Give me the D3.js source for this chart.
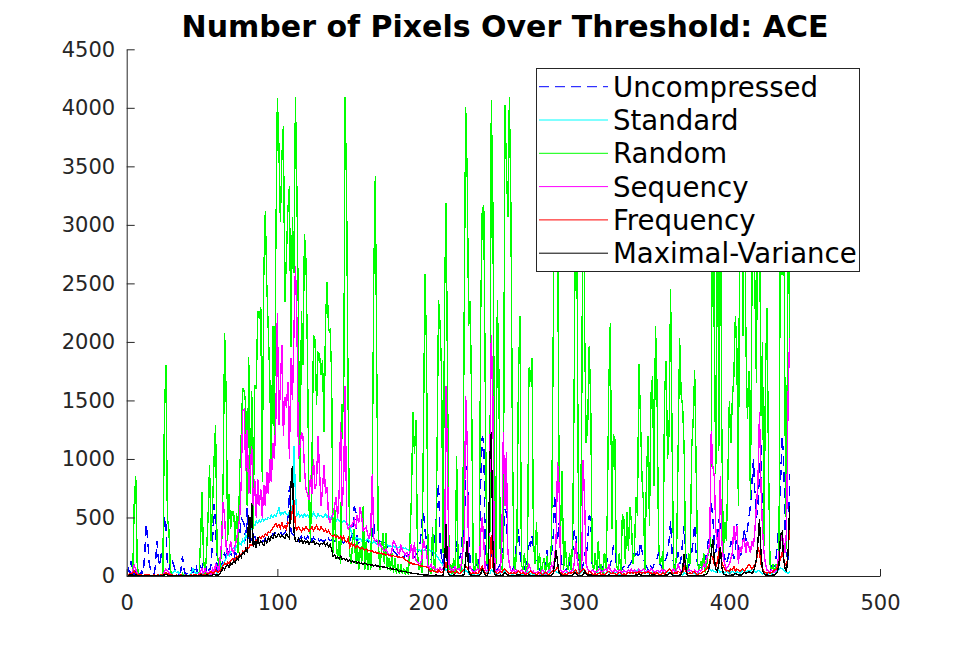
<!DOCTYPE html>
<html>
<head>
<meta charset="utf-8">
<script src="https://cdn.jsdelivr.net/npm/d3@7"></script>
<style>
  body { margin: 0; background: #fff; }
  svg { display: block; }
</style>
</head>
<body>
<svg id="chart" width="974" height="648"></svg>
<script>
const seriesNames = ["Uncompressed", "Standard", "Random", "Sequency", "Frequency", "Maximal-Variance"];
const xTicks = [0, 100, 200, 300, 400, 500];
const yTicks = [0, 500, 1000, 1500, 2000, 2500, 3000, 3500, 4000, 4500];

const uncompressed = [
77,20,130,40,10,77,30,20,10,40,
20,200,443,300,100,50,20,10,77,301,
150,80,200,150,514,440,100,50,145,145,
100,60,20,10,20,50,173,60,10,20,
10,20,60,30,40,100,20,60,80,60,
120,150,30,60,40,100,300,614,450,30,
20,40,80,150,200,120,250,180,200,150,
130,200,180,300,350,500,470,440,300,580,
316,350,300,380,340,300,320,290,310,300,
300,320,290,310,340,330,360,350,370,360,
373,380,350,360,370,400,500,770,380,360,
344,320,330,300,320,340,300,330,310,340,
320,344,300,330,310,340,320,300,310,300,
300,310,290,320,300,310,290,300,310,300,
305,290,300,280,300,320,290,300,330,400,
588,564,300,280,290,270,300,280,290,300,
280,300,350,450,320,300,280,300,290,310,
280,300,250,270,240,230,220,200,190,180,
165,180,170,160,175,165,180,160,150,170,
160,180,200,220,300,480,540,393,300,150,
150,140,200,300,400,620,794,300,150,100,
630,200,100,80,60,50,100,120,300,150,
150,200,400,300,900,940,400,100,60,50,
60,100,50,200,800,1185,1160,200,100,60,
80,200,300,100,60,50,80,100,200,300,
571,540,200,100,60,50,80,200,300,400,
200,100,80,60,100,200,300,250,345,220,
200,80,60,50,80,60,50,40,220,80,
100,200,300,700,450,300,460,200,80,60,
50,60,80,100,150,200,380,390,200,100,
80,60,100,200,150,300,514,500,100,80,
60,50,80,60,50,80,60,100,150,60,
100,150,255,230,100,60,50,40,60,80,
50,60,80,100,120,150,200,180,200,150,
290,216,150,100,80,60,100,80,60,100,
100,150,200,100,80,60,120,150,200,300,
471,200,100,80,150,200,100,150,300,429,
200,100,80,150,200,300,445,150,100,80,
60,80,100,150,200,300,400,630,500,300,
200,300,471,445,300,200,150,100,150,200,
300,200,150,200,445,200,150,200,300,400,
300,400,500,600,800,997,700,500,600,886,
1140,400,200,100,80,60,50,80,60,100,
150,300,500,800,1196,1025,400,200,100,870
];

const standard = [
0,10,20,10,0,10,20,10,0,0,
0,0,10,0,0,0,0,0,0,0,
0,10,0,0,20,30,20,10,0,10,
40,45,30,40,20,10,0,10,0,0,
0,10,30,60,40,20,30,10,0,20,
10,20,30,20,10,20,30,50,40,20,
30,50,80,100,130,150,200,170,210,220,
240,220,260,250,280,270,308,290,350,330,
393,380,420,440,430,470,450,478,460,490,
470,490,480,500,490,520,500,520,510,540,
586,520,540,530,550,530,520,550,560,600,
1110,700,520,540,506,520,500,530,510,520,
500,520,506,540,520,500,530,510,520,500,
510,530,500,520,490,510,500,480,470,490,
470,480,460,470,467,450,440,420,380,336,
340,320,330,310,320,300,310,300,308,320,
300,290,280,300,285,270,280,265,275,265,
270,260,265,255,260,250,255,245,250,240,
250,240,245,235,240,230,222,235,225,230,
222,230,220,225,215,222,218,225,215,220,
222,210,215,200,190,170,150,130,110,90,
70,50,40,20,10,30,20,40,30,20,
20,40,60,30,50,40,20,30,20,10,
20,30,10,40,60,50,30,20,40,30,
20,50,40,30,20,10,30,20,40,30,
50,40,30,20,30,10,20,30,20,40,
30,20,10,30,20,40,30,20,30,10,
20,10,30,20,10,20,30,10,20,30,
40,30,50,60,40,30,20,30,20,10,
20,30,20,40,30,60,40,30,20,30,
20,30,50,40,30,20,40,30,20,10,
20,10,30,20,10,20,30,20,40,30,
20,30,40,20,30,20,10,20,30,20,
10,20,30,40,20,30,40,30,50,60,
40,30,20,30,40,20,30,20,40,30,
20,30,20,40,30,20,30,40,30,20,
30,40,20,30,20,40,30,20,10,30,
20,30,40,30,20,30,20,10,20,30,
20,30,40,50,60,80,60,40,50,40,
30,40,50,30,40,20,30,40,30,20,
30,40,30,20,40,30,20,30,50,40,
30,40,50,40,60,50,40,30,50,40,
30,20,30,20,10,20,30,20,30,40,
30,40,60,70,60,50,40,30,20,40
];

const random = [
0,0,0,0,620,850,100,0,0,0,
0,0,0,0,0,0,0,0,0,0,
0,0,0,0,1340,1800,500,400,60,0,
0,0,0,0,0,0,20,0,0,0,
0,0,0,0,0,0,0,0,300,714,
150,0,200,500,950,300,600,1000,1290,200,
100,50,250,800,2080,1556,300,700,400,550,
550,300,540,200,900,1200,1608,1577,1470,600,
1873,700,1580,400,1635,1600,2267,2199,2301,800,
2574,3119,2488,2091,1673,900,2133,1200,2830,4086,
3682,3028,3574,3847,2338,2730,3128,3332,1957,3071,
2590,4096,3264,2173,800,2267,1807,2923,2693,1875,
600,300,1000,2054,2020,1457,1909,1895,1716,1847,
1227,2190,2514,2100,2110,1730,200,600,300,150,
300,100,1466,1400,4094,3204,1450,200,100,300,
400,100,300,50,250,100,597,50,300,50,
200,50,852,2557,3418,1739,300,50,200,370,
100,370,50,150,40,200,30,150,20,100,
20,100,20,60,10,80,10,300,682,1398,
1043,1335,200,50,100,30,1290,2582,1935,100,
50,20,418,100,30,1057,2361,2148,1739,200,
2386,3190,1594,50,100,20,150,20,1025,50,
100,30,200,2207,4008,3426,2133,2346,1423,100,
30,200,50,100,2261,3128,3170,1594,100,200,
300,4065,3199,1227,100,2355,1764,100,50,200,
4023,3511,3071,4094,3156,1196,100,50,300,1665,
2219,100,50,200,30,100,1781,1660,1861,300,
100,460,50,200,20,100,150,20,173,50,
100,300,1878,3500,4096,3000,800,400,898,50,
300,100,50,200,50,300,1611,3500,2420,200,
50,1366,3800,2062,1140,1290,1963,1466,100,50,
200,30,300,50,100,20,200,50,545,1622,
2165,400,1210,1170,100,50,200,30,528,485,
100,545,216,585,460,100,200,673,510,1807,
1355,843,630,50,855,1196,426,1551,1707,770,
2139,1611,300,100,173,50,1537,1835,997,1227,
2453,1156,100,30,200,1057,2036,1551,1452,1085,
100,50,200,100,1085,1325,1756,886,100,50,
130,50,200,30,100,200,200,1238,4096,2048,
870,3800,1070,3500,1253,200,460,300,830,1495,
1140,1508,1707,2219,1935,600,3500,4096,2048,3800,
2005,1338,1750,660,2445,3600,2420,1650,3900,3300,
1366,2000,258,1722,2293,971,100,50,100,30,
100,50,200,3800,2574,3500,1290,230,3600,2000
];

const sequency = [
0,0,0,50,90,60,20,0,0,0,
0,0,0,0,0,0,0,0,0,0,
0,0,0,0,40,60,45,30,20,0,
0,0,0,0,10,0,0,0,0,0,
0,0,0,0,0,0,0,20,40,60,
20,60,30,20,40,10,60,30,100,80,
40,150,300,630,500,250,180,200,300,220,
200,260,320,400,500,800,1410,1423,900,1250,
700,921,1110,600,827,500,827,600,740,500,
780,600,886,700,997,800,1135,1000,1348,2250,
1287,1623,1977,1200,1531,1440,1654,1000,1866,1500,
2080,2645,2165,1000,1100,1226,1193,921,741,700,
650,860,700,1000,741,800,1193,900,600,750,
950,700,758,500,460,500,530,600,677,500,
700,1312,600,800,1620,460,400,430,420,450,
480,400,520,450,590,500,386,400,420,350,
315,400,870,320,300,310,260,280,250,230,
210,230,200,180,173,220,300,280,258,200,
190,258,220,200,180,202,160,200,272,150,
287,130,120,110,100,150,315,250,200,80,
70,100,60,80,50,60,40,70,50,60,
120,1622,870,100,50,60,40,80,50,60,
50,100,200,300,1537,1140,60,80,50,40,
30,50,60,40,370,500,300,50,40,60,
870,2057,1537,200,50,40,60,30,300,1227,
597,1055,200,100,50,40,60,30,50,40,
30,50,40,20,30,50,100,60,30,40,
20,30,40,20,30,50,40,20,30,40,
50,100,60,150,300,971,770,50,40,30,
50,40,30,20,40,50,100,300,150,60,
40,50,990,600,100,60,40,30,50,40,
30,40,50,60,30,40,50,60,40,100,
50,40,30,60,40,30,50,40,30,50,
40,30,50,40,60,30,50,40,30,60,
40,50,60,40,30,50,40,60,50,40,
30,50,40,30,60,40,50,30,40,60,
50,40,60,30,50,100,60,40,50,170,
40,30,60,50,40,30,50,40,30,50,
40,60,100,80,150,200,300,1238,944,855,
400,300,200,855,300,150,100,60,80,100,
150,200,426,300,429,100,250,200,300,312,
200,300,250,200,300,250,400,600,800,1398,
770,400,200,100,50,40,30,50,40,30,
50,100,200,290,350,300,200,400,1540,2036
];

const frequency = [
10,20,15,30,40,20,10,8,10,6,
5,8,6,10,8,5,6,8,5,6,
8,6,10,8,20,30,20,15,10,8,
6,5,8,6,5,8,6,5,8,6,
5,6,8,6,10,8,6,10,20,15,
10,8,20,15,30,40,20,30,50,40,
30,50,60,90,110,95,120,105,130,140,
150,135,170,160,190,175,210,200,230,250,
240,270,260,290,280,310,300,336,320,340,
330,360,344,380,370,390,410,430,450,420,
440,410,460,410,430,400,460,440,480,564,
650,420,393,420,400,380,410,393,420,400,
380,400,420,390,410,430,400,390,420,400,
380,400,373,390,360,344,336,350,330,340,
320,340,310,336,300,290,320,250,280,260,
270,240,260,250,230,245,235,222,230,215,
220,210,215,200,205,195,200,190,195,185,
190,180,185,175,180,170,175,165,170,160,
165,155,160,150,140,130,120,108,115,100,
105,95,100,90,85,88,80,82,75,70,
45,40,50,35,40,30,50,40,30,35,
60,120,50,40,30,40,30,20,40,30,
20,30,40,60,80,70,40,30,20,30,
20,30,20,40,60,80,50,30,20,30,
60,350,80,40,30,20,30,40,30,50,
60,40,30,20,30,20,30,20,30,40,
30,20,30,20,10,20,30,40,30,20,
20,10,20,30,20,10,20,30,20,10,
20,30,50,40,60,80,40,30,20,10,
20,10,20,30,20,30,40,50,30,20,
30,40,60,50,30,20,40,30,20,10,
20,10,20,30,10,20,10,20,30,40,
30,20,30,20,10,20,30,20,10,20,
10,20,30,20,30,20,30,20,30,40,
30,20,30,20,30,40,20,30,20,30,
20,30,20,10,20,30,20,30,40,60,
50,30,20,30,20,40,30,20,30,80,
40,30,20,30,20,40,30,20,10,20,
20,30,40,50,60,80,120,187,150,100,
80,120,200,250,120,80,60,40,50,40,
60,50,80,40,60,50,40,50,60,40,
60,80,100,80,60,80,100,120,247,200,
100,60,40,30,20,30,20,30,40,50,
60,80,120,145,200,150,100,80,200,418
];

const maximalVariance = [
5,8,10,6,4,8,6,5,4,3,
3,2,3,4,2,3,2,3,2,2,
3,2,4,5,10,15,8,5,4,3,
3,2,2,3,2,3,2,2,3,2,
2,3,2,3,2,3,2,5,8,6,
4,5,8,6,5,4,10,15,10,8,
10,25,45,70,55,80,95,75,110,100,
130,115,150,140,180,160,200,190,230,210,
520,280,623,250,300,240,330,270,300,282,
260,310,282,330,300,340,320,360,330,345,
360,330,350,336,320,360,340,320,780,940,
380,300,293,320,290,310,280,300,282,300,
270,290,282,300,270,285,275,260,280,273,
290,260,280,250,270,230,165,180,150,160,
145,170,140,150,137,150,125,140,120,130,
115,125,108,120,105,112,100,110,108,95,
100,90,95,85,92,80,88,78,82,75,
80,72,70,65,68,60,62,55,58,50,
37,45,40,35,38,30,32,28,25,22,
23,20,18,15,12,14,10,9,8,9,
5,6,4,5,8,6,5,4,6,8,
100,440,40,10,6,5,8,6,5,4,
6,5,8,10,150,300,40,10,6,5,
4,6,5,8,20,60,30,8,6,20,
1000,1227,300,20,8,6,5,8,6,10,
30,20,8,6,5,4,6,5,8,10,
8,6,5,4,6,5,8,6,5,4,
3,4,5,4,3,4,5,3,4,5,
6,8,20,100,220,116,30,10,6,5,
4,5,6,4,5,8,20,30,10,6,
5,6,10,40,20,8,6,10,6,5,
4,3,4,5,4,3,4,5,6,8,
6,5,4,6,5,4,3,4,5,4,
3,4,5,6,4,5,6,8,10,20,
10,6,5,4,6,5,8,6,10,8,
6,5,4,6,5,4,6,8,10,20,
30,10,6,5,4,6,8,10,60,187,
80,10,6,5,4,6,5,4,3,4,
5,6,8,10,20,40,100,200,315,150,
60,40,100,250,80,20,10,8,6,5,
6,8,10,20,15,10,8,10,20,30,
20,30,40,30,20,40,80,150,300,486,
200,50,20,10,8,6,5,6,8,10,
20,40,100,358,375,150,60,40,200,597
];

const seriesData = [uncompressed, standard, random, sequency, frequency, maximalVariance];
const seriesColors = ["#0000ff", "#00ffff", "#00ff00", "#ff00ff", "#ff0000", "#000000"];
const seriesDash = ["10,6", null, null, null, null, null];

const svg = d3.select("#chart");
const axisColor = "#262626";
const fontFam = "'DejaVu Sans', sans-serif";

const x = d3.scaleLinear().domain([0, 500]).range([126.7, 880]);
const y = d3.scaleLinear().domain([0, 4500]).range([576, 49.3]);

svg.append("rect").attr("width", 974).attr("height", 648).attr("fill", "#fff");

// data lines
const line = d3.line().x((d, i) => x(i + 1)).y(d => y(d));
seriesData.forEach((arr, k) => {
  svg.append("path")
    .datum(arr)
    .attr("d", line)
    .attr("fill", "none")
    .attr("stroke", seriesColors[k])
    .attr("stroke-width", 1.4)
    .attr("stroke-dasharray", seriesDash[k])
    .attr("shape-rendering", "crispEdges");
});

// axes
const gx = svg.append("g")
  .attr("transform", `translate(0,${y(0)})`)
  .call(d3.axisBottom(x).tickValues(xTicks).tickFormat(d3.format("d"))
    .tickSizeInner(-7).tickSizeOuter(0).tickPadding(19));
const gy = svg.append("g")
  .attr("transform", `translate(${x(0)},0)`)
  .call(d3.axisLeft(y).tickValues(yTicks).tickFormat(d3.format("d"))
    .tickSizeInner(-8).tickSizeOuter(0).tickPadding(11.5));
[gx, gy].forEach(g => {
  g.selectAll("path,line").attr("stroke", axisColor).attr("stroke-width", 1);
  g.selectAll("text").attr("fill", axisColor).style("font-family", fontFam).style("font-size", "21px");
});

// title
svg.append("text")
  .attr("x", 505).attr("y", 37)
  .attr("text-anchor", "middle")
  .style("font-family", fontFam).style("font-size", "30px").style("font-weight", "bold")
  .attr("fill", "#000")
  .text("Number of Pixels Over Threshold: ACE");

// legend
const lg = svg.append("g");
lg.append("rect")
  .attr("x", 536.5).attr("y", 68.5).attr("width", 323).attr("height", 203)
  .attr("fill", "#fff").attr("stroke", axisColor).attr("stroke-width", 1);
seriesNames.forEach((name, k) => {
  const yy = 86.7 + k * 33.3;
  lg.append("line")
    .attr("x1", 539).attr("x2", 608).attr("y1", yy).attr("y2", yy)
    .attr("stroke", seriesColors[k]).attr("stroke-width", 1)
    .attr("stroke-dasharray", seriesDash[k]);
  lg.append("text")
    .attr("x", 613).attr("y", yy + 10)
    .style("font-family", fontFam).style("font-size", "27.6px")
    .attr("fill", "#000")
    .text(name);
});
</script>
</body>
</html>
